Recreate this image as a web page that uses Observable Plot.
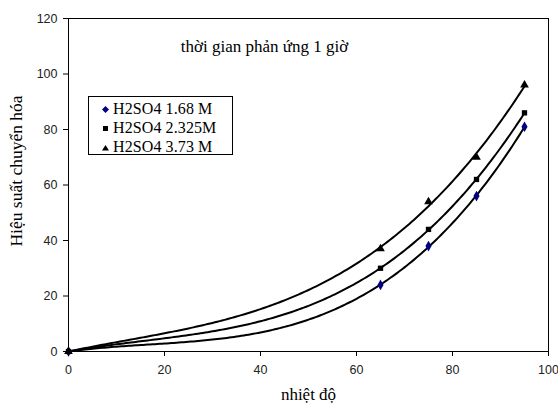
<!DOCTYPE html>
<html><head><meta charset="utf-8">
<script src="https://cdn.jsdelivr.net/npm/d3@7"></script>
<script src="https://cdn.jsdelivr.net/npm/@observablehq/plot@0.6"></script>
<style>
body{margin:0;background:#fff;}
#wrap{position:relative;width:558px;height:403px;}
#legend{position:absolute;left:88px;top:96px;width:145px;height:59px;border:1px solid #000;box-sizing:border-box;background:#fff;font-family:"Liberation Serif",serif;font-size:16px;color:#000;}
#legend .row{position:absolute;left:0;height:18px;line-height:18px;white-space:nowrap;}
#legend svg{position:absolute;left:13px;top:6px;}
#legend span{position:absolute;left:24px;top:0;letter-spacing:0.1px;}
</style>
</head><body>
<div id="wrap"></div>
<script>
const temps = [0, 65, 75, 85, 95];
const seriesNames = ["H2SO4 1.68 M", "H2SO4 2.325M", "H2SO4 3.73 M"];
const s168 = [0, 24, 38, 56, 81];
const s2325 = [0, 30, 44, 62, 86];
const s373 = [0, 37, 54, 70, 96];
const xTicks = [0, 20, 40, 60, 80, 100];
const yTicks = [0, 20, 40, 60, 80, 100, 120];
const titleText = "thời gian phản ứng 1 giờ";
const xLabel = "nhiệt độ";
const yLabel = "Hiệu suất chuyển hóa";

const symbols = ["diamond", "square", "triangle"];
const colors = ["#000080", "#000", "#000"];
const seriesVals = [s168, s2325, s373];

const points = [];
seriesVals.forEach((vals, i) => vals.forEach((v, j) => points.push({x: temps[j], y: v, s: seriesNames[i], k: i})));

// cubic polynomial least-squares trendline (like a spreadsheet trendline)
function cubicFit(xs, ys) {
  const n = 4, A = [], b = [];
  for (let r = 0; r < n; r++) { A.push(new Array(n).fill(0)); b.push(0); }
  xs.forEach((x0, i) => {
    const x = x0 / 100, p = [1, x, x * x, x * x * x];
    for (let r = 0; r < n; r++) { b[r] += p[r] * ys[i]; for (let c = 0; c < n; c++) A[r][c] += p[r] * p[c]; }
  });
  for (let c = 0; c < n; c++) {
    let piv = c;
    for (let r = c + 1; r < n; r++) if (Math.abs(A[r][c]) > Math.abs(A[piv][c])) piv = r;
    [A[c], A[piv]] = [A[piv], A[c]]; [b[c], b[piv]] = [b[piv], b[c]];
    for (let r = 0; r < n; r++) if (r !== c) {
      const f = A[r][c] / A[c][c];
      for (let k = c; k < n; k++) A[r][k] -= f * A[c][k];
      b[r] -= f * b[c];
    }
  }
  const coef = b.map((v, i) => v / A[i][i]);
  return x0 => { const x = x0 / 100; return coef[0] + coef[1] * x + coef[2] * x * x + coef[3] * x * x * x; };
}
const trend = [];
seriesVals.forEach((vals, i) => {
  const f = cubicFit(temps, vals);
  for (let x = temps[0]; x <= temps[temps.length - 1]; x += 0.5) trend.push({x, y: f(x), s: seriesNames[i]});
});

const chart = Plot.plot({
  width: 558, height: 403,
  marginLeft: 68, marginRight: 10, marginTop: 18, marginBottom: 52,
  style: {fontFamily: "Liberation Sans, Arial, sans-serif", fontSize: "12.5px", color: "#000", background: "#fff"},
  x: {domain: [0, 100], ticks: xTicks},
  y: {domain: [0, 120], ticks: yTicks},
  marks: [
    Plot.frame({stroke: "#000", strokeWidth: 1}),
    Plot.axisX({ticks: xTicks, tickSize: 5, tickPadding: 9, label: null, fontSize: 12.5, fill: "#222"}),
    Plot.axisY({ticks: yTicks, tickSize: 5, tickPadding: 6, label: null, fontSize: 12.5, fill: "#222"}),
    Plot.line(trend, {x: "x", y: "y", z: "s", stroke: "#000", strokeWidth: 2}),
    Plot.dot(points, {x: "x", y: "y", symbol: d => symbols[d.k], fill: d => colors[d.k], stroke: null, r: d => (d.k === 1 ? 2.5 : 2.9)}),
    Plot.text([titleText], {frameAnchor: "top", dx: -44, dy: 21, fontFamily: "Liberation Serif, serif", fontSize: 17, fill: "#000"}),
    Plot.text([xLabel], {frameAnchor: "bottom", dy: 48, fontFamily: "Liberation Serif, serif", fontSize: 17, fill: "#000"}),
    Plot.text([yLabel], {frameAnchor: "left", textAnchor: "middle", dx: -52, dy: -14, rotate: -90, fontFamily: "Liberation Serif, serif", fontSize: 17.5, fill: "#000"})
  ]
});
chart.style.position = "absolute"; chart.style.left = "0"; chart.style.top = "0";
const wrap = document.getElementById("wrap");
wrap.appendChild(chart);

const legend = document.createElement("div");
legend.id = "legend";
const symPaths = {
  diamond: '<path d="M3.5,0 L7,3.5 L3.5,7 L0,3.5 Z"/>',
  square: '<rect x="1" y="1" width="5" height="5"/>',
  triangle: '<path d="M3.5,1 L7,6.5 L0,6.5 Z"/>'
};
seriesNames.forEach((name, i) => {
  const row = document.createElement("div");
  row.className = "row";
  row.style.top = (3 + i * 19) + "px";
  row.innerHTML = `<svg width="7" height="7" viewBox="0 0 7 7" fill="${colors[i]}">${symPaths[symbols[i]]}</svg><span>${name}</span>`;
  legend.appendChild(row);
});
wrap.appendChild(legend);
</script>
</body></html>
